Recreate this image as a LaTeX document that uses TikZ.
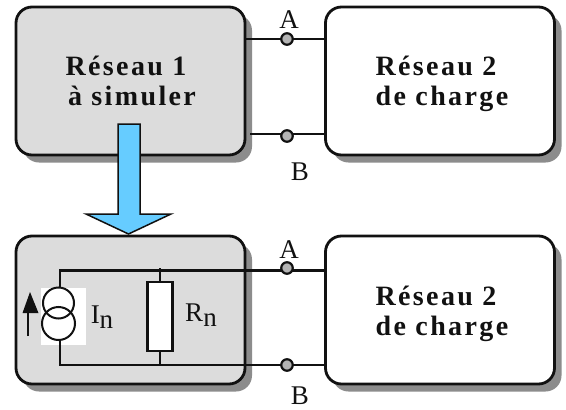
\documentclass[tikz,border=0pt]{standalone}
\usepackage{fontspec}
\setmainfont{Liberation Serif}
\newfontfamily\spaced[LetterSpace=8.5]{Liberation Serif}
\definecolor{boxgrey}{HTML}{DCDCDC}
\definecolor{shadowgrey}{HTML}{8C8C8C}
\definecolor{arrowblue}{HTML}{66CCFF}
\definecolor{termgrey}{HTML}{B4B4B4}
\definecolor{ink}{HTML}{111111}
\tikzset{
  x=1pt,y=-1pt,
  netbox/.style={draw=ink,line width=2.8pt,rounded corners=16pt,minimum width=229pt,minimum height=148pt,inner sep=0pt,outer sep=0pt},
  shadowbox/.style={fill=shadowgrey,rounded corners=16pt,minimum width=229pt,minimum height=148pt,inner sep=0pt,outer sep=0pt},
  wire/.style={draw=ink,line width=2.4pt},
  terminal/.style={circle,draw=ink,fill=termgrey,line width=2.2pt,minimum size=11.5pt,inner sep=0pt},
  title/.style={font=\fontsize{28}{28}\selectfont\spaced\bfseries,anchor=base,inner sep=0pt,text=ink},
  lab/.style={font=\fontsize{27}{27}\selectfont,anchor=base,inner sep=0pt,text=ink},
}
\begin{document}
\begin{tikzpicture}
\useasboundingbox (0,0) rectangle (566,410);
\fill[white] (0,0) rectangle (566,410);
\node[shadowbox] (s1) at (137.5,88.5) {};
\node[shadowbox] (s2) at (447,88.5) {};
\node[shadowbox] (s3) at (137.5,317.5) {};
\node[shadowbox] (s4) at (447,317.5) {};
\node[netbox,fill=boxgrey] (r1) at (130.5,81) {};
\node[netbox,fill=white] (r2) at (440,81) {};
\node[netbox,fill=boxgrey] (r3) at (130.5,310) {};
\node[netbox,fill=white] (r4) at (440,310) {};
% upper connections
\coordinate (a1l) at (245,39);
\coordinate (a1r) at (325,39);
\coordinate (b1l) at (250,134);
\coordinate (b1r) at (325,134);
\draw[wire] (a1l) -- (a1r);
\draw[wire] (b1l) -- (b1r);
\node[terminal] (ta1) at (287,39) {};
\node[terminal] (tb1) at (287,136) {};
\node[lab] (la1) at (289,28) {A};
\node[lab] (lb1) at (300,180) {B};
\node[title] (t1a) at (126,75) {Réseau 1};
\node[title] (t1b) at (132,105) {à simuler};
\node[title] (t2a) at (436,75) {Réseau 2};
\node[title] (t2b) at (442,105) {de charge};
% big arrow
\draw[draw=ink,line width=1.5pt,fill=arrowblue,line join=miter]
  (118,124) -- (140,124) -- (140,214) -- (171,214) -- (128.5,234) -- (86,214) -- (118,214) -- cycle;
% lower circuit
\node[fill=white,minimum width=45pt,minimum height=57pt,inner sep=0pt] (src) at (63.5,316.5) {};
\coordinate (tl) at (60,270.5);
\coordinate (bl) at (60,365);
\coordinate (tr) at (325,270.5);
\coordinate (br) at (325,365);
\coordinate (rt) at (160,268);
\coordinate (rb) at (160,365);
\draw[wire,line join=miter] (60,288) -- (tl) -- (tr);
\draw[wire,line join=miter] (60,341) -- (bl) -- (br);
\node[draw=ink,line width=2pt,circle,minimum size=31pt,inner sep=0pt] (c1) at (58.5,303) {};
\node[draw=ink,line width=2pt,circle,minimum size=33pt,inner sep=0pt] (c2) at (58.5,323.5) {};
\node[draw=ink,line width=2.4pt,fill=white,minimum width=25pt,minimum height=69pt,inner sep=0pt] (rn) at (160,316.5) {};
\draw[wire] (rt) -- (rn.north);
\draw[wire] (rn.south) -- (rb);
\node[terminal] (ta2) at (287,268) {};
\node[terminal] (tb2) at (287,365) {};
\node[lab] (la2) at (289,258) {A};
\node[lab] (lb2) at (300,404) {B};
\coordinate (ia) at (28,336);
\coordinate (ib) at (30,292);
\draw[draw=ink,line width=1.8pt] (ia) -- (28,310);
\fill[ink] (ib) -- (38.5,313) -- (22.5,313) -- cycle;
\node[lab] (in) at (102,323) {I\raisebox{-5pt}{n}};
\node[lab] (rnl) at (201,321) {R\raisebox{-5pt}{n}};
\node[title] (t4a) at (436,305) {Réseau 2};
\node[title] (t4b) at (442,335) {de charge};
\end{tikzpicture}
\end{document}
